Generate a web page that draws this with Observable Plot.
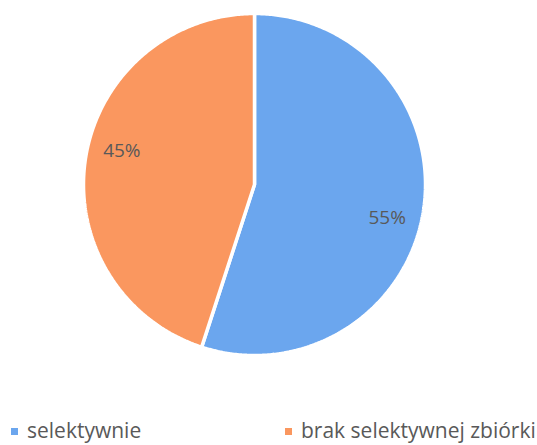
<!DOCTYPE html>
<html>
<head>
<meta charset="utf-8">
<script src="https://cdn.jsdelivr.net/npm/d3@7"></script>
<script src="https://cdn.jsdelivr.net/npm/@observablehq/plot@0.6"></script>
<style>
  body { margin: 0; background: #fff; font-family: "Open Sans", sans-serif; }
  #wrap { position: relative; width: 537px; height: 445px; overflow: hidden; }
  #legend { position: absolute; left: 0; top: 416px; width: 537px; height: 29px; }
  .item { position: absolute; top: 0; display: flex; align-items: center; font-size: 21px; color: #595959; white-space: nowrap; }
  .sw { width: 7px; height: 7px; margin-right: 9px; margin-top: 2px; }
</style>
</head>
<body>
<div id="wrap">
  <div id="chart"></div>
  <div id="legend"></div>
</div>
<script>
const categories = ["selektywnie", "brak selektywnej zbiórki"];
const values = [55, 45];
const labels = ["55%", "45%"];
const colors = ["#6BA6EE", "#FA975F"];

const pie = d3.pie().sort(null).value(d => d.value);
const data = categories.map((name, i) => ({name, value: values[i], label: labels[i]}));
const arcs = pie(data);

// polygon outlines for each slice (angle measured clockwise from top)
const outline = [];
arcs.forEach(a => {
  outline.push({name: a.data.name, x: 0, y: 0});
  const steps = Math.max(2, Math.ceil((a.endAngle - a.startAngle) / 0.01));
  for (let k = 0; k <= steps; k++) {
    const t = a.startAngle + (a.endAngle - a.startAngle) * k / steps;
    outline.push({name: a.data.name, x: Math.sin(t), y: Math.cos(t)});
  }
});
const labelPts = arcs.map(a => {
  const t = (a.startAngle + a.endAngle) / 2 + 0.09;
  return {label: a.data.label, x: 0.8 * Math.sin(t), y: 0.8 * Math.cos(t)};
});

const plot = Plot.plot({
  width: 537,
  height: 400,
  marginLeft: 83,
  marginRight: 112,
  marginTop: 13,
  marginBottom: 45,
  x: {domain: [-1, 1], axis: null},
  y: {domain: [-1, 1], axis: null},
  color: {domain: categories, range: colors},
  marks: [
    Plot.line(outline, {x: "x", y: "y", z: "name", fill: "name", stroke: "white", strokeWidth: 3.5, curve: "linear-closed", strokeLinejoin: "miter"}),
    Plot.text(labelPts, {x: "x", y: "y", text: "label", fill: "#595959", fontSize: 19, fontFamily: "Open Sans"})
  ]
});
document.getElementById("chart").appendChild(plot);

const legend = document.getElementById("legend");
const lx = [11, 285];
categories.forEach((c, i) => {
  const it = document.createElement("div");
  it.className = "item";
  it.style.left = lx[i] + "px";
  const sw = document.createElement("span");
  sw.className = "sw";
  sw.style.background = colors[i];
  it.appendChild(sw);
  it.appendChild(document.createTextNode(c));
  legend.appendChild(it);
});
</script>
</body>
</html>
